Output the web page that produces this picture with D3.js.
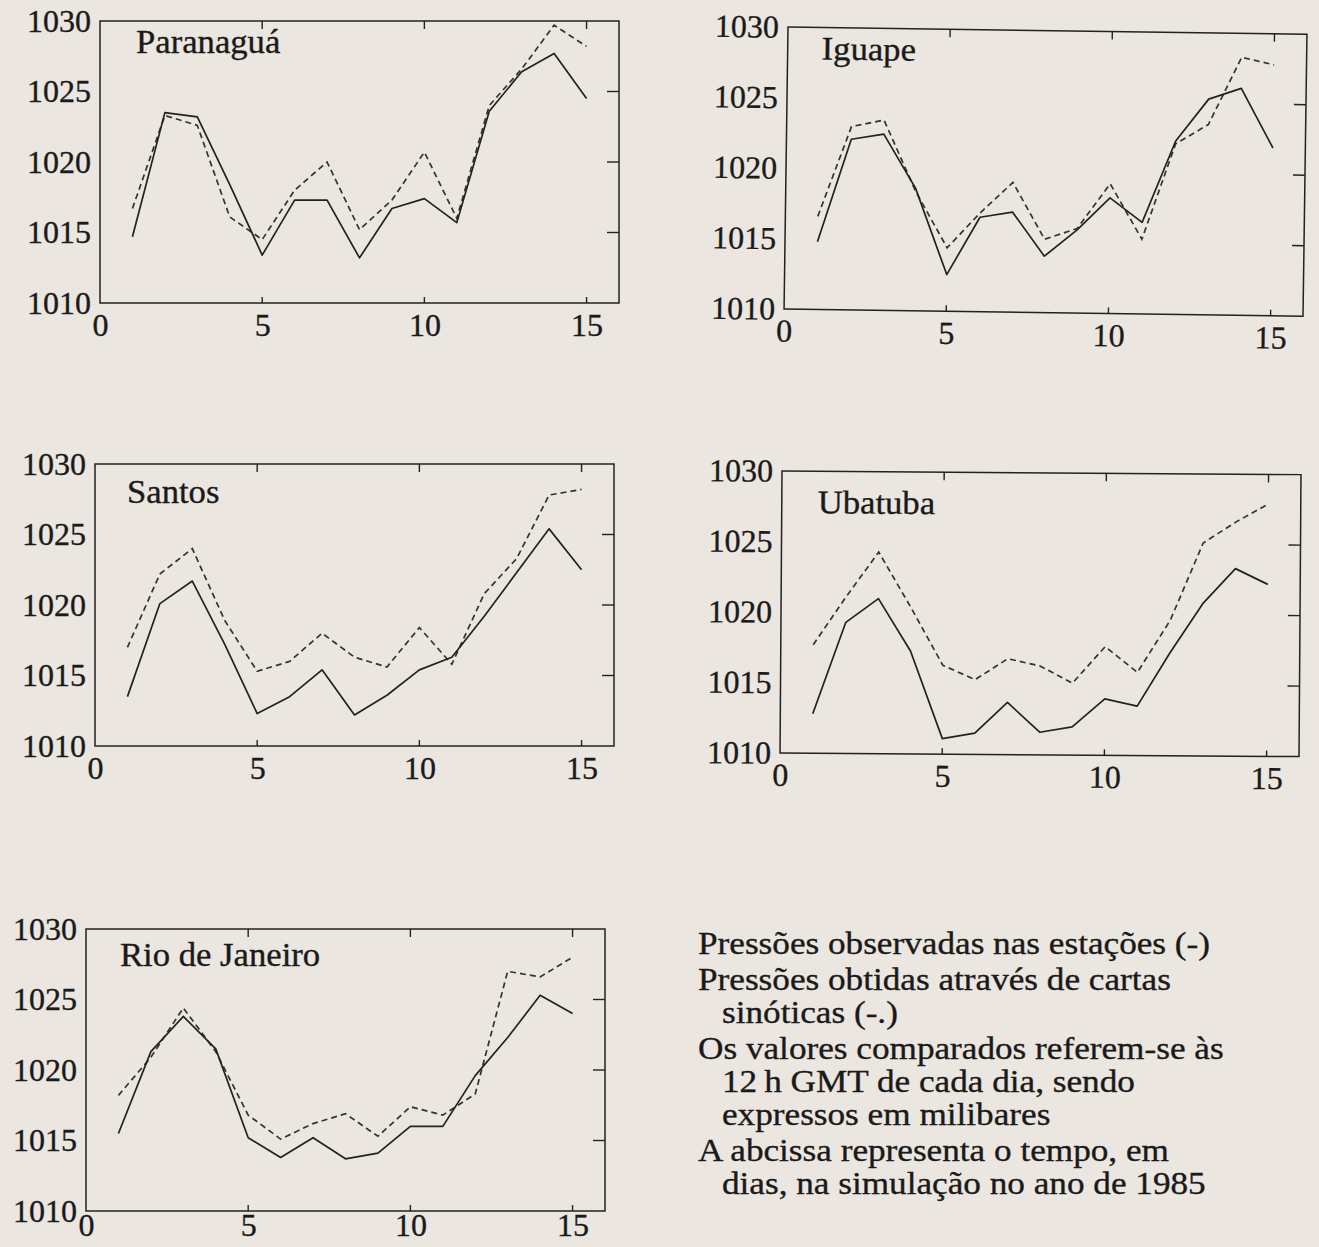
<!DOCTYPE html>
<html>
<head>
<meta charset="utf-8">
<script src="https://cdn.jsdelivr.net/npm/d3@7"></script>
<style>
	html, body { margin: 0; padding: 0; background: #ebe6e0; }
	svg { display: block; }
	text { font-family: 'Liberation Serif', 'Times New Roman', serif; fill: #1a1a1a; stroke: #1a1a1a; stroke-width: 0.35; }
	.box { fill: none; stroke: #222; stroke-width: 1.5; }
	.tick-in { stroke: #222; stroke-width: 1.4; }
	.obs { fill: none; stroke: #222; stroke-width: 1.7; stroke-linejoin: round; }
	.syn { fill: none; stroke: #333; stroke-width: 1.7; stroke-dasharray: 6,4; }
</style>
</head>
<body>
<div class="graphic"></div>
<script>
// dias (abcissa)
const days = [1, 2, 3, 4, 5, 6, 7, 8, 9, 10, 11, 12, 13, 14, 15]
const xTicks = [0, 5, 10, 15]
const yTicks = [1010, 1015, 1020, 1025, 1030]

const stations = ['Paranaguá', 'Iguape', 'Santos', 'Ubatuba', 'Rio de Janeiro']

// pressões observadas nas estações (-)
const paranaguaObs = [1014.7, 1023.5, 1023.2, 1018.4, 1013.4, 1017.3, 1017.3, 1013.2, 1016.7, 1017.4, 1015.7, 1023.6, 1026.4, 1027.7, 1024.5]
const iguapeObs = [1014.8, 1022.1, 1022.5, 1018.7, 1012.6, 1016.7, 1017.1, 1014.0, 1015.9, 1018.2, 1016.5, 1022.3, 1025.3, 1026.1, 1021.9]
const santosObs = [1013.5, 1020.1, 1021.7, 1017.2, 1012.3, 1013.5, 1015.4, 1012.2, 1013.6, 1015.4, 1016.3, 1019.2, 1022.3, 1025.4, 1022.5]
const ubatubaObs = [1012.8, 1019.3, 1021.0, 1017.3, 1011.1, 1011.5, 1013.7, 1011.6, 1012.0, 1014.0, 1013.5, 1017.3, 1020.8, 1023.3, 1022.2]
const rioObs = [1015.5, 1021.3, 1023.8, 1021.5, 1015.2, 1013.8, 1015.2, 1013.7, 1014.1, 1016.0, 1016.0, 1019.6, 1022.3, 1025.3, 1024.0]

// pressões obtidas através de cartas sinóticas (-.)
const paranaguaSyn = [1016.7, 1023.3, 1022.6, 1016.1, 1014.5, 1018.0, 1020.0, 1015.2, 1017.3, 1020.7, 1016.0, 1024.0, 1026.6, 1029.7, 1028.2]
const iguapeSyn = [1016.6, 1023.0, 1023.5, 1018.5, 1014.5, 1017.0, 1019.2, 1015.2, 1016.0, 1019.2, 1015.3, 1022.1, 1023.5, 1028.3, 1027.8]
const santosSyn = [1017.0, 1022.2, 1024.0, 1018.9, 1015.3, 1016.0, 1018.0, 1016.3, 1015.6, 1018.4, 1015.8, 1020.8, 1023.3, 1027.8, 1028.2]
const ubatubaSyn = [1017.7, 1021.1, 1024.3, 1020.4, 1016.3, 1015.3, 1016.8, 1016.3, 1015.1, 1017.7, 1015.9, 1019.6, 1025.1, 1026.6, 1027.9]
const rioSyn = [1018.2, 1020.9, 1024.4, 1021.3, 1016.8, 1015.1, 1016.2, 1016.9, 1015.3, 1017.4, 1016.8, 1018.3, 1027.0, 1026.6, 1028.0]

const observed = [paranaguaObs, iguapeObs, santosObs, ubatubaObs, rioObs]
const synoptic = [paranaguaSyn, iguapeSyn, santosSyn, ubatubaSyn, rioSyn]

const legendParagraphs = [
	['Pressões observadas nas estações (-)'],
	['Pressões obtidas através de cartas', 'sinóticas (-.)'],
	['Os valores comparados referem-se às', '12\u2009h GMT de cada dia, sendo', 'expressos em milibares'],
	['A abcissa representa o tempo, em', 'dias, na simulação no ano de 1985']
]

const width = 1319
const height = 1247
const panelW = 519
const panelH = 282
const fontSize = 32

// posição de cada painel na página digitalizada (ligeiramente rodada)
const panels = [
	{ x: 100, y: 21, rot: 0, lx: 36, ly: 32, pad: 10 },
	{ x: 788, y: 27, rot: 0.8, lx: 34, ly: 32, pad: 10 },
	{ x: 95, y: 464, rot: 0, lx: 32, ly: 39, pad: 10 },
	{ x: 782, y: 471, rot: 0.4, lx: 36, ly: 42, pad: 10 },
	{ x: 86, y: 929, rot: 0, lx: 34, ly: 37, pad: 2 }
]

const scaleX = d3.scaleLinear().domain([0, 16]).range([0, panelW])
const scaleY = d3.scaleLinear().domain([1010, 1030]).range([panelH, 0])

const lineGen = d3.line()
	.x((d, i) => scaleX(days[i]))
	.y(d => scaleY(d))

const svg = d3.select('.graphic')
	.append('svg')
	.attr('width', width)
	.attr('height', height)

function drawPanel(i) {
	const p = panels[i]
	const g = svg.append('g')
		.attr('class', 'panel')
		.attr('transform', `translate(${p.x}, ${p.y}) rotate(${p.rot})`)

	g.append('rect')
		.attr('class', 'box')
		.attr('width', panelW)
		.attr('height', panelH)

	// eixos: só rótulos à esquerda e em baixo
	g.append('g')
		.call(d3.axisLeft(scaleY).tickValues(yTicks).tickSize(0).tickPadding(9).tickFormat(d3.format('d')))
	g.append('g')
		.attr('transform', `translate(0, ${panelH})`)
		.call(d3.axisBottom(scaleX).tickValues(xTicks).tickSize(0).tickPadding(p.pad))

	g.selectAll('.domain').remove()
	g.selectAll('.tick text')
		.style('font-size', `${fontSize}px`)
		.style('font-family', "'Liberation Serif', serif")
		.attr('fill', '#1a1a1a')

	// marcas interiores: topo, base e direita
	const inner = xTicks.filter(d => d > 0)
	g.selectAll('.tick-top')
		.data(inner)
		.enter().append('line')
		.attr('class', 'tick-in')
		.attr('x1', scaleX).attr('x2', scaleX)
		.attr('y1', 0).attr('y2', 8)
	g.selectAll('.tick-bottom')
		.data(inner)
		.enter().append('line')
		.attr('class', 'tick-in')
		.attr('x1', scaleX).attr('x2', scaleX)
		.attr('y1', panelH).attr('y2', panelH - 6)
	g.selectAll('.tick-right')
		.data(yTicks.slice(1, 4))
		.enter().append('line')
		.attr('class', 'tick-in')
		.attr('x1', panelW).attr('x2', panelW - 12)
		.attr('y1', scaleY).attr('y2', scaleY)

	g.append('path')
		.attr('class', 'syn')
		.attr('d', lineGen(synoptic[i]))

	g.append('path')
		.attr('class', 'obs')
		.attr('d', lineGen(observed[i]))

	g.append('text')
		.attr('transform', `translate(${p.lx}, ${p.ly}) scale(1.05, 1)`)
		.style('font-size', '33px')
		.text(stations[i])
}

function drawLegend() {
	const g = svg.append('g').attr('class', 'legend')
	let yPos = 954
	legendParagraphs.forEach((para, pi) => {
		if (pi > 0) yPos += 3
		para.forEach((line, li) => {
			g.append('text')
				.attr('transform', `translate(${li === 0 ? 698 : 722}, ${yPos}) scale(1.1, 1)`)
				.style('font-size', `${fontSize}px`)
				.text(line)
			yPos += 33
		})
	})
}

stations.forEach((s, i) => drawPanel(i))
drawLegend()
</script>
</body>
</html>
